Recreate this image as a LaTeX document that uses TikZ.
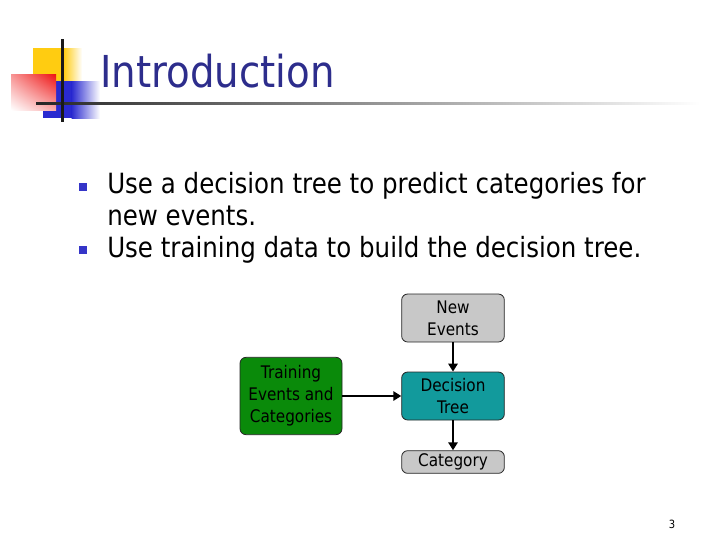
\documentclass[tikz,border=0pt]{standalone}
\usepackage{fontspec}
\setmainfont[FakeStretch=0.88]{DejaVu Sans}
\usetikzlibrary{arrows.meta,positioning,shadings}
\definecolor{titulo}{HTML}{2D2D8C}
\definecolor{vieta}{HTML}{3535C8}
\definecolor{amarillo}{HTML}{FFCC11}
\definecolor{rojo}{HTML}{EE1111}
\definecolor{azul}{HTML}{2A2AD0}
\definecolor{gris}{HTML}{C8C8C8}
\definecolor{verde}{HTML}{0A8A0A}
\definecolor{turquesa}{HTML}{129A9C}
\tikzset{
  caja/.style={draw=black!85,line width=0.6pt,rounded corners=4.5pt,minimum width=77pt,minimum height=36pt,inner sep=0pt,align=center,font=\fontsize{13}{16.5}\selectfont},
  texto/.style={anchor=base west,inner sep=0pt,font=\fontsize{20.9}{24}\selectfont},
  cuadro/.style={fill=vieta,inner sep=0pt,minimum size=6.6pt},
  flecha/.style={-{Triangle[length=6pt,width=7pt]},line width=1.5pt},
}
\begin{document}
\begin{tikzpicture}[x=0.75pt,y=-0.75pt]
\useasboundingbox (0,0) rectangle (720,540);
% logo
\fill[amarillo] (33,48) rectangle (64,82);
\shade[left color=amarillo,right color=white] (63.5,48) rectangle (82,82);
\fill[azul] (43,81) rectangle (72,118);
\shade[left color=azul,right color=white] (71.5,81) rectangle (100,118);
\shade[upper right=rojo,upper left=rojo!45,lower right=rojo!35,lower left=white] (11,74) rectangle (56,110);
\shade[left color=black!85,right color=white] (36,102) rectangle (700,104);
\fill[black!90] (61,39) rectangle (63.5,122);
\node[anchor=base west,inner sep=0pt,text=titulo,font=\fontsize{33}{40}\selectfont] (titulo) at (100,87) {Introduction};
% items
\node[cuadro] (v1) at (83,187) {};
\node[cuadro] (v2) at (83,250) {};
\node[texto] (l1) at (107,193) {Use a decision tree to predict categories for};
\node[texto] (l2) at (107,225) {new events.};
\node[texto] (l3) at (107,257) {Use training data to build the decision tree.};
% diagram
\node[caja,fill=gris] (nuevos) at (453,318) {New\\Events};
\node[caja,fill=turquesa] (arbol) at (453,396) {Decision\\Tree};
\node[caja,fill=gris,minimum height=17pt] (categoria) at (453,462) {Category};
\node[caja,fill=verde,minimum width=76.5pt,minimum height=58pt] (entrena) at (291,396) {Training\\Events and\\Categories};
\draw[flecha] (nuevos) -- (arbol);
\draw[flecha] (entrena) -- (arbol);
\draw[flecha] (arbol) -- (categoria);
\node[inner sep=0pt,font=\fontsize{8.5}{10}\selectfont] (pagina) at (672,524) {3};
\end{tikzpicture}
\end{document}
